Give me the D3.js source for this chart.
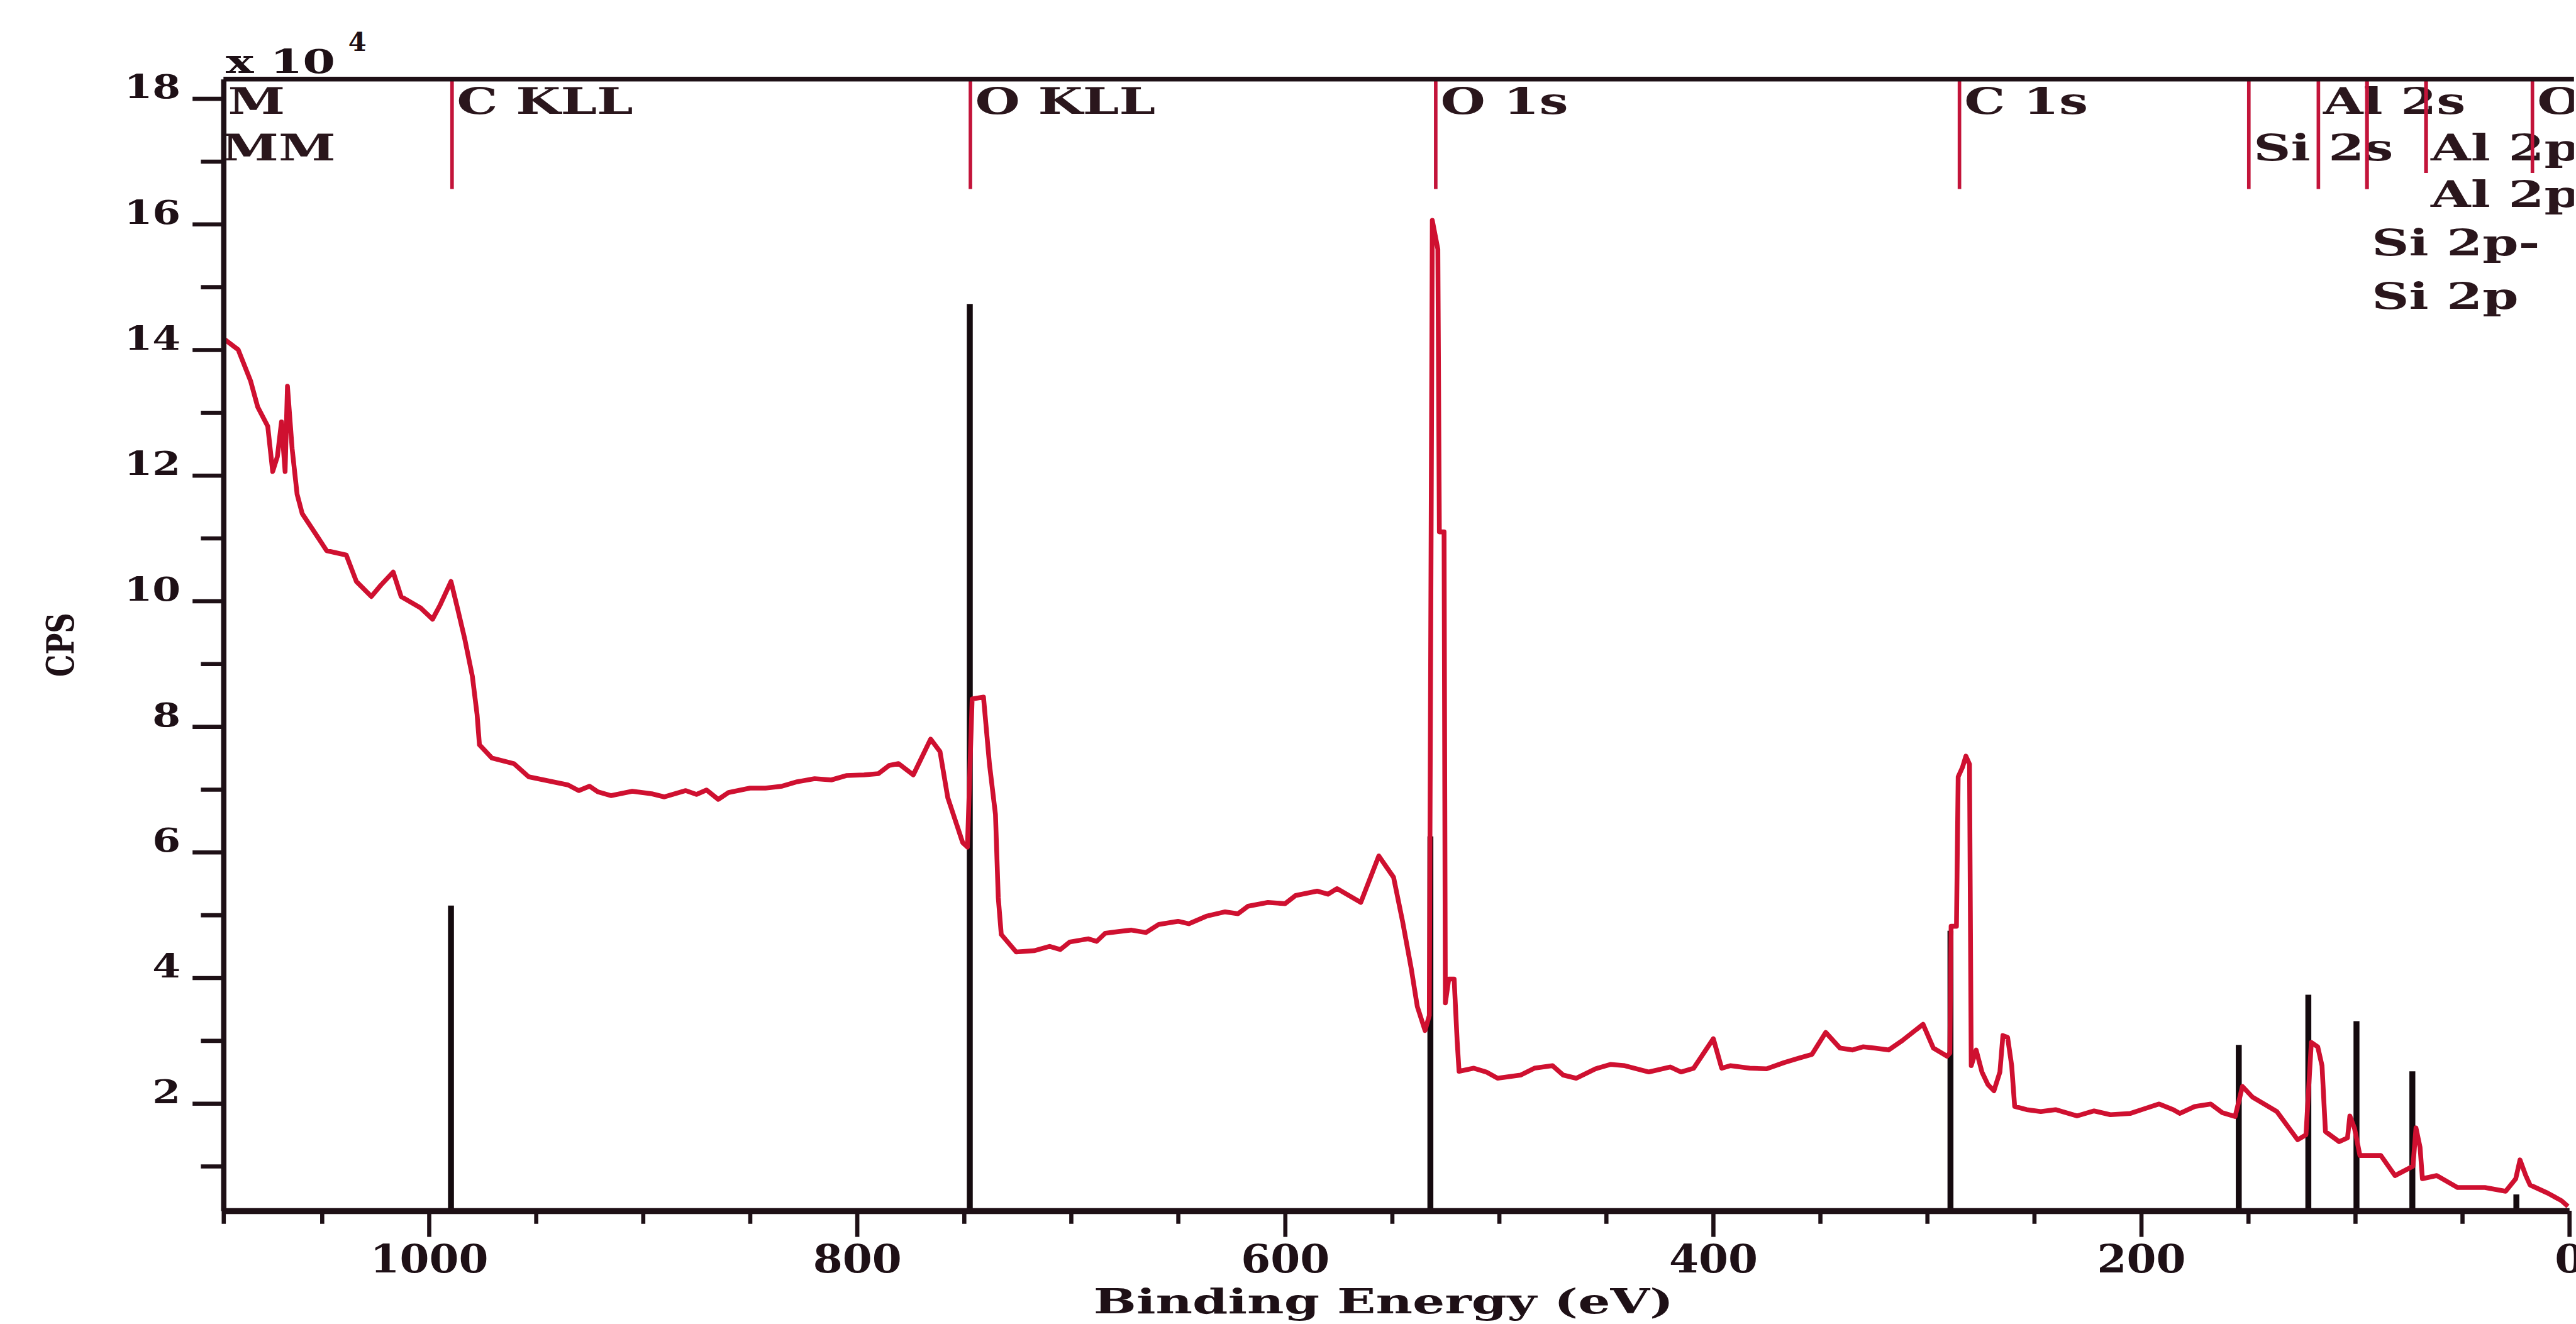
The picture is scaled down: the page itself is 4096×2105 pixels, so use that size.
<!DOCTYPE html>
<html>
<head>
<meta charset="utf-8">
<script src="https://cdn.jsdelivr.net/npm/d3@7"></script>
<style>
  html, body { margin: 0; padding: 0; background: #ffffff; }
  svg { display: block; }
</style>
</head>
<body>
<script>
// XPS survey spectrum: binding energy (eV) vs counts per second (in units of 10^4 CPS)
const energy = [
  1096.1, 1089.1, 1083.3, 1080.0, 1075.3, 1073.0, 1070.8, 1068.9, 1067.2, 1066.1,
  1063.9, 1061.6, 1059.2, 1052.2, 1047.8, 1038.6, 1033.9, 1026.9, 1022.5, 1016.7,
  1013.0, 1003.9, 998.3, 994.7, 989.7, 986.7, 983.3, 979.7, 977.5, 976.4,
  970.6, 960.3, 953.4, 935.0, 930.0, 925.0, 921.1, 915.0, 905.0, 895.9,
  890.0, 880.0, 875.0, 870.3, 864.8, 860.0, 850.0, 842.8, 835.0, 828.0,
  819.8, 812.0, 805.0, 796.7, 790.0, 785.0, 780.6, 773.7, 765.6, 761.2,
  757.6, 750.6, 748.4, 746.2, 740.9, 738.1, 735.3, 734.0, 732.6, 725.6,
  717.3, 710.0, 705.0, 700.6, 692.0, 688.0, 684.0, 672.0, 665.0, 659.0,
  650.0, 645.0, 636.8, 628.0, 622.0, 617.3, 608.0, 600.0, 595.1, 585.0,
  580.0, 575.7, 564.6, 556.2, 549.3, 545.1, 541.0, 538.2, 534.6, 532.6,
  531.2, 528.6, 527.9, 525.7, 525.1, 523.5, 521.0, 519.6, 518.7, 511.8,
  506.0, 500.7, 490.0, 483.5, 475.0, 470.0, 464.0, 455.0, 448.0, 441.3,
  430.0, 420.0, 415.0, 409.1, 399.9, 396.0, 392.0, 382.9, 375.0, 366.8,
  360.0, 353.8, 347.4, 340.7, 335.0, 330.0, 324.6, 318.0, 311.6, 301.9,
  297.1, 290.7, 289.4, 288.8, 286.3, 285.5, 283.5, 281.9, 280.2, 279.4,
  277.1, 274.4, 271.6, 268.8, 266.0, 264.6, 262.4, 260.5, 259.1, 253.5,
  246.9, 240.0, 230.0, 222.0, 214.4, 205.0, 198.0, 191.6, 185.0, 181.9,
  175.0, 167.5, 162.0, 156.1, 152.7, 148.0, 136.6, 126.9, 123.0, 120.5,
  117.5, 115.5, 113.9, 107.5, 103.6, 102.5, 100.3, 97.8, 88.0, 81.4,
  73.0, 71.6, 69.7, 68.6, 61.9, 52.2, 39.4, 29.7, 25.0, 23.0,
  20.3, 18.3, 10.0, 3.6, 0.6
];
const cps = [
  14.18, 14.00, 13.50, 13.09, 12.78, 12.06, 12.30, 12.85, 12.06, 13.42,
  12.42, 11.70, 11.39, 11.03, 10.80, 10.73, 10.31, 10.07, 10.25, 10.46,
  10.07, 9.89, 9.71, 9.94, 10.31, 9.89, 9.40, 8.80, 8.19, 7.71,
  7.50, 7.41, 7.20, 7.07, 6.98, 7.05, 6.96, 6.90, 6.97, 6.93,
  6.88, 6.98, 6.92, 6.99, 6.84, 6.95, 7.02, 7.02, 7.05, 7.12,
  7.17, 7.15, 7.22, 7.23, 7.25, 7.38, 7.41, 7.23, 7.80, 7.60,
  6.87, 6.15, 6.08, 8.44, 8.47, 7.40, 6.60, 5.28, 4.69, 4.41,
  4.43, 4.50, 4.45, 4.57, 4.62, 4.58, 4.71, 4.76, 4.72, 4.85,
  4.90, 4.86, 4.98, 5.05, 5.02, 5.14, 5.20, 5.18, 5.31, 5.38,
  5.33, 5.42, 5.20, 5.94, 5.60, 4.90, 4.14, 3.54, 3.16, 3.40,
  16.06, 15.60, 11.10, 11.10, 3.60, 3.98, 3.98, 3.00, 2.51, 2.56,
  2.50, 2.40, 2.45, 2.56, 2.60, 2.45, 2.40, 2.55, 2.62, 2.60,
  2.50, 2.58, 2.50, 2.56, 3.03, 2.56, 2.60, 2.56, 2.55, 2.65,
  2.72, 2.78, 3.13, 2.88, 2.85, 2.90, 2.88, 2.85, 3.00, 3.26,
  2.88, 2.75, 2.80, 4.82, 4.82, 7.20, 7.35, 7.53, 7.40, 2.60,
  2.85, 2.50, 2.30, 2.20, 2.50, 3.08, 3.05, 2.60, 1.95, 1.90,
  1.87, 1.90, 1.80, 1.88, 1.82, 1.84, 1.92, 1.99, 1.90, 1.84,
  1.95, 1.99, 1.85, 1.79, 2.27, 2.10, 1.87, 1.42, 1.50, 2.97,
  2.90, 2.60, 1.55, 1.39, 1.45, 1.80, 1.60, 1.17, 1.17, 0.85,
  1.00, 1.61, 1.30, 0.80, 0.85, 0.66, 0.66, 0.60, 0.80, 1.10,
  0.85, 0.70, 0.57, 0.45, 0.36
];

// Reference bars for the identified components
const stickEnergy = [989.7, 747.3, 532.1, 289.1, 154.4, 121.9, 99.4, 73.3, 24.7];
const stickCounts = [5.15, 14.73, 6.25, 4.75, 2.93, 3.73, 3.31, 2.51, 0.55];

// Peak identification markers along the top of the plot
const markerNames  = ["Al LMM", "Si LMM", "C KLL", "O KLL", "O 1s", "C 1s", "Si 2s", "Al 2s", "Si 2p-", "Si 2p", "Al 2p", "Al 2p", "O 2s"];
const markerEnergy = [1176, 1151, 989.2, 747.0, 529.6, 284.9, 149.7, 117.2, 94.5, 94.5, 66.9, 66.9, 17.2];
const markerRow    = [1, 2, 1, 1, 1, 1, 2, 1, 4, 5, 2, 3, 1];

// Axis ticks
const xTicks = [1000, 800, 600, 400, 200, 0];
const xMinorTicks = [1050, 950, 900, 850, 750, 700, 650, 550, 500, 450, 350, 300, 250, 150, 100, 50];
const yTicks = [2, 4, 6, 8, 10, 12, 14, 16, 18];
const yMinorTicks = [1, 3, 5, 7, 9, 11, 13, 15, 17];

// ---------------------------------------------------------------
const W = 4331, S = 0.945;
const plot = { left: 376, right: 4323, top: 133, bottom: 2037 };
const rowBaseline = [192, 270, 348, 430, 520];
const axisColor = "#1e1016";
const curveColor = "#cf1030";
const markerColor = "#c3143a";
const serif = "'DejaVu Serif', 'Liberation Serif', serif";

const svg = d3.select("body").append("svg")
  .attr("width", 4096).attr("height", 2105);
svg.append("rect").attr("width", 4096).attr("height", 2105).attr("fill", "#ffffff");
const g = svg.append("g").attr("transform", `scale(${S})`);

const x = d3.scaleLinear().domain([1096, 0]).range([plot.left, plot.right]);
const y = d3.scaleLinear().domain([0.29, 18.31]).range([plot.bottom, plot.top]);

g.append("defs").append("clipPath").attr("id", "plotClip")
  .append("rect")
  .attr("x", plot.left + 5).attr("y", plot.top)
  .attr("width", W - plot.left - 5).attr("height", plot.bottom - plot.top);

const area = g.append("g").attr("clip-path", "url(#plotClip)");

// component bars
area.append("g").selectAll("line")
  .data(d3.range(stickEnergy.length))
  .join("line")
  .attr("x1", i => x(stickEnergy[i])).attr("x2", i => x(stickEnergy[i]))
  .attr("y1", y(y.domain()[0])).attr("y2", i => y(stickCounts[i]))
  .attr("stroke", "#140a0e").attr("stroke-width", 10);

// survey spectrum
const line = d3.line()
  .x(i => x(energy[i]))
  .y(i => y(cps[i]));
area.append("path")
  .datum(d3.range(energy.length))
  .attr("d", line)
  .attr("fill", "none")
  .attr("stroke", curveColor)
  .attr("stroke-width", 8)
  .attr("stroke-linejoin", "round");

// peak labels
const labels = area.append("g").selectAll("text")
  .data(d3.range(markerNames.length))
  .join("text")
  .attr("transform", i => `translate(${x(markerEnergy[i]) + 8},${rowBaseline[markerRow[i] - 1]}) scale(1.4,1)`)
  .attr("font-family", serif)
  .attr("font-weight", "bold")
  .attr("font-size", 62)
  .attr("fill", "#2a161c")
  .text(i => markerNames[i]);

// marker lines stop above any label in the lower rows that they would cross
const lowBoxes = [];
labels.each(function (i) {
  if (markerRow[i] >= 3) {
    const b = this.getBBox();
    const x0 = x(markerEnergy[i]) + 8;
    lowBoxes.push([x0, x0 + b.width * 1.4]);
  }
});
area.append("g").selectAll("line")
  .data(d3.range(markerNames.length))
  .join("line")
  .attr("x1", i => x(markerEnergy[i])).attr("x2", i => x(markerEnergy[i]))
  .attr("y1", plot.top)
  .attr("y2", i => {
    const xi = x(markerEnergy[i]);
    return lowBoxes.some(([a, b]) => xi > a && xi < b) ? 291 : 318;
  })
  .attr("stroke", markerColor).attr("stroke-width", 6);

// top frame
g.append("line")
  .attr("x1", plot.left).attr("x2", W)
  .attr("y1", plot.top).attr("y2", plot.top)
  .attr("stroke", axisColor).attr("stroke-width", 8);

// y axis
const yMajor = g.append("g").attr("transform", `translate(${plot.left},0)`)
  .call(d3.axisLeft(y).tickValues(yTicks).tickSize(52).tickSizeOuter(0).tickFormat(d3.format("d")));
yMajor.select(".domain").attr("stroke", axisColor).attr("stroke-width", 9);
yMajor.selectAll(".tick line").attr("stroke", axisColor).attr("stroke-width", 7);
yMajor.selectAll(".tick text")
  .attr("x", 0).attr("dy", 0)
  .attr("transform", "translate(-72,-1) scale(1.22,1)")
  .attr("text-anchor", "end")
  .attr("font-family", serif).attr("font-weight", "bold").attr("font-size", 56)
  .attr("fill", "#1e1016");

const yMinor = g.append("g").attr("transform", `translate(${plot.left},0)`)
  .call(d3.axisLeft(y).tickValues(yMinorTicks).tickSize(38).tickSizeOuter(0).tickFormat(""));
yMinor.select(".domain").remove();
yMinor.selectAll(".tick line").attr("stroke", axisColor).attr("stroke-width", 7);

// x axis
const xMajor = g.append("g").attr("transform", `translate(0,${plot.bottom})`)
  .call(d3.axisBottom(x).tickValues(xTicks).tickSize(44).tickSizeOuter(0).tickFormat(d3.format("d")));
xMajor.select(".domain").attr("stroke", axisColor).attr("stroke-width", 10);
xMajor.selectAll(".tick line").attr("stroke", axisColor).attr("stroke-width", 7);
xMajor.selectAll(".tick text")
  .attr("y", 0).attr("dy", 0)
  .attr("transform", "translate(0,104) scale(1.1,1)")
  .attr("font-family", serif).attr("font-weight", "bold").attr("font-size", 65)
  .attr("fill", "#1e1016");

const xMinor = g.append("g").attr("transform", `translate(0,${plot.bottom})`)
  .call(d3.axisBottom(x).tickValues(xMinorTicks.concat([x.domain()[0]])).tickSize(22).tickSizeOuter(0).tickFormat(""));
xMinor.select(".domain").remove();
xMinor.selectAll(".tick line").attr("stroke", axisColor).attr("stroke-width", 7);

// axis titles
g.append("text")
  .attr("x", 2328).attr("y", 2210)
  .attr("text-anchor", "middle")
  .attr("textLength", 976).attr("lengthAdjust", "spacingAndGlyphs")
  .attr("font-family", serif).attr("font-weight", "bold").attr("font-size", 58)
  .attr("fill", "#1e1016")
  .text("Binding Energy (eV)");

g.append("text")
  .attr("transform", "translate(124,1085) rotate(-90)")
  .attr("text-anchor", "middle")
  .attr("textLength", 108).attr("lengthAdjust", "spacingAndGlyphs")
  .attr("font-family", serif).attr("font-weight", "bold").attr("font-size", 64)
  .attr("fill", "#1e1016")
  .text("CPS");

// exponent of the count scale
const expo = g.append("g").attr("fill", "#1e1016").attr("font-family", serif).attr("font-weight", "bold");
expo.append("text")
  .attr("x", 380).attr("y", 123)
  .attr("textLength", 184).attr("lengthAdjust", "spacingAndGlyphs")
  .attr("font-size", 56)
  .text("x 10");
expo.append("text")
  .attr("x", 586).attr("y", 86)
  .attr("font-size", 44)
  .text("4");
</script>
</body>
</html>
